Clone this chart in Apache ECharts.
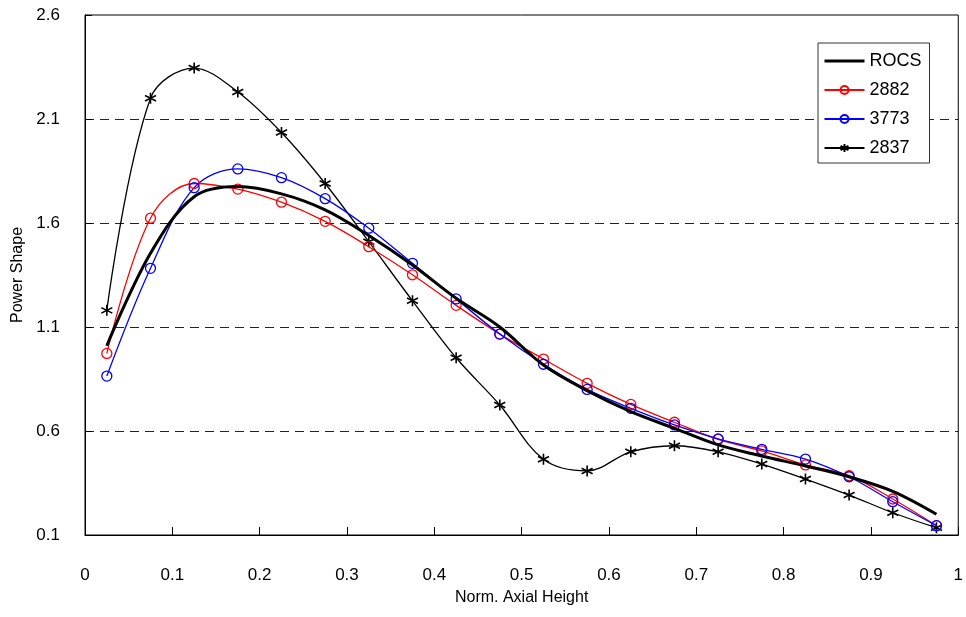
<!DOCTYPE html>
<html>
<head>
<meta charset="utf-8">
<script src="https://cdn.jsdelivr.net/npm/echarts@6/dist/echarts.min.js"></script>
<style>
html,body{margin:0;padding:0;background:#fff;}
#chart{width:966px;height:617px;}
</style>
</head>
<body>
<div id="chart"></div>
<script>
var heights = [0.025,0.075,0.125,0.175,0.225,0.275,0.325,0.375,0.425,0.475,0.525,0.575,0.625,0.675,0.725,0.775,0.825,0.875,0.925,0.975];
var rocs  = [1.01,1.455,1.726,1.775,1.74,1.663,1.54,1.398,1.238,1.10,0.917,0.794,0.693,0.613,0.533,0.48,0.432,0.38,0.31,0.20];
var s2882 = [0.973,1.623,1.79,1.763,1.70,1.608,1.486,1.351,1.204,1.066,0.946,0.829,0.728,0.642,0.56,0.504,0.437,0.385,0.273,0.145];
var s3773 = [0.864,1.382,1.77,1.86,1.818,1.717,1.575,1.406,1.235,1.066,0.921,0.80,0.709,0.629,0.562,0.512,0.465,0.38,0.26,0.145];
var s2837 = [1.18,2.20,2.345,2.23,2.035,1.79,1.51,1.226,0.952,0.725,0.464,0.408,0.50,0.529,0.50,0.441,0.369,0.292,0.207,0.135];
var xTicks = [0,0.1,0.2,0.3,0.4,0.5,0.6,0.7,0.8,0.9,1];
var yTicks = [0.1,0.6,1.1,1.6,2.1,2.6];

function pairs(ys){ return heights.map(function(x,i){ return [x, ys[i]]; }); }

var FONT = '"Liberation Sans", Arial, sans-serif';
var starPath = 'path://M0,-5L0,5M-4.33,-2.5L4.33,2.5M-4.33,2.5L4.33,-2.5';

var chart = echarts.init(document.getElementById('chart'), null, {renderer:'canvas'});
chart.setOption({
  animation:false,
  backgroundColor:'#fff',
  textStyle:{fontFamily:FONT,color:'#000'},
  grid:{left:85,right:7,top:15,bottom:82,show:true,borderColor:'#000',borderWidth:1,backgroundColor:'#fff'},
  legend:{
    orient:'vertical', left:818, top:43,
    backgroundColor:'#fff', borderColor:'#333', borderWidth:1,
    padding:[9,8,6,5], itemWidth:40, itemHeight:10, itemGap:11,
    textStyle:{fontFamily:FONT,fontSize:18,color:'#000'},
    data:[{name:'ROCS', itemStyle:{opacity:0}, lineStyle:{width:3,color:'#000'}},'2882','3773','2837']
  },
  xAxis:{
    type:'value', min:0, max:1, interval:0.1,
    name:'Norm. Axial Height', nameLocation:'middle', nameGap:55,
    nameTextStyle:{fontFamily:FONT,fontSize:16,color:'#000'},
    axisLine:{lineStyle:{color:'#000',width:1}},
    axisTick:{inside:true,length:8,lineStyle:{color:'#000'}, customValues:xTicks},
    axisLabel:{margin:32,fontSize:17,color:'#000',fontFamily:FONT, customValues:xTicks,
      formatter:function(v){ return String(+v.toFixed(1)); }},
    splitLine:{show:false}
  },
  yAxis:{
    type:'value', min:0.1, max:2.6,
    name:'Power Shape', nameLocation:'middle', nameGap:56,
    nameTextStyle:{fontFamily:FONT,fontSize:16,color:'#000'},
    axisLine:{show:true,lineStyle:{color:'#000',width:1}},
    axisTick:{show:true,inside:true,length:7,lineStyle:{color:'#000'}, customValues:yTicks},
    axisLabel:{margin:25,fontSize:17,color:'#000',fontFamily:FONT, customValues:yTicks,
      formatter:function(v){ return (+v).toFixed(1); }},
    splitLine:{show:true,showMinLine:false,showMaxLine:false,lineStyle:{color:'#222',width:1,type:[9,6]}}
  },
  series:[
    {name:'ROCS',type:'line',data:pairs(rocs),smooth:0.35,showSymbol:false,symbol:'none',
      lineStyle:{color:'#000',width:3},itemStyle:{color:'#000'},z:5},
    {name:'2882',type:'line',data:pairs(s2882),smooth:0.35,symbol:'circle',symbolSize:10,
      lineStyle:{color:'#ff0000',width:1.3},itemStyle:{color:'rgba(255,255,255,0)',borderColor:'#ff0000',borderWidth:1.3},z:4},
    {name:'3773',type:'line',data:pairs(s3773),smooth:0.35,symbol:'circle',symbolSize:10,
      lineStyle:{color:'#0000ff',width:1.3},itemStyle:{color:'rgba(255,255,255,0)',borderColor:'#0000ff',borderWidth:1.3},z:4},
    {name:'2837',type:'line',data:pairs(s2837),smooth:0.35,symbol:starPath,symbolSize:11,
      lineStyle:{color:'#000',width:1.3},itemStyle:{color:'#000',borderColor:'#000',borderWidth:1.6},z:3}
  ]
});
</script>
</body>
</html>
